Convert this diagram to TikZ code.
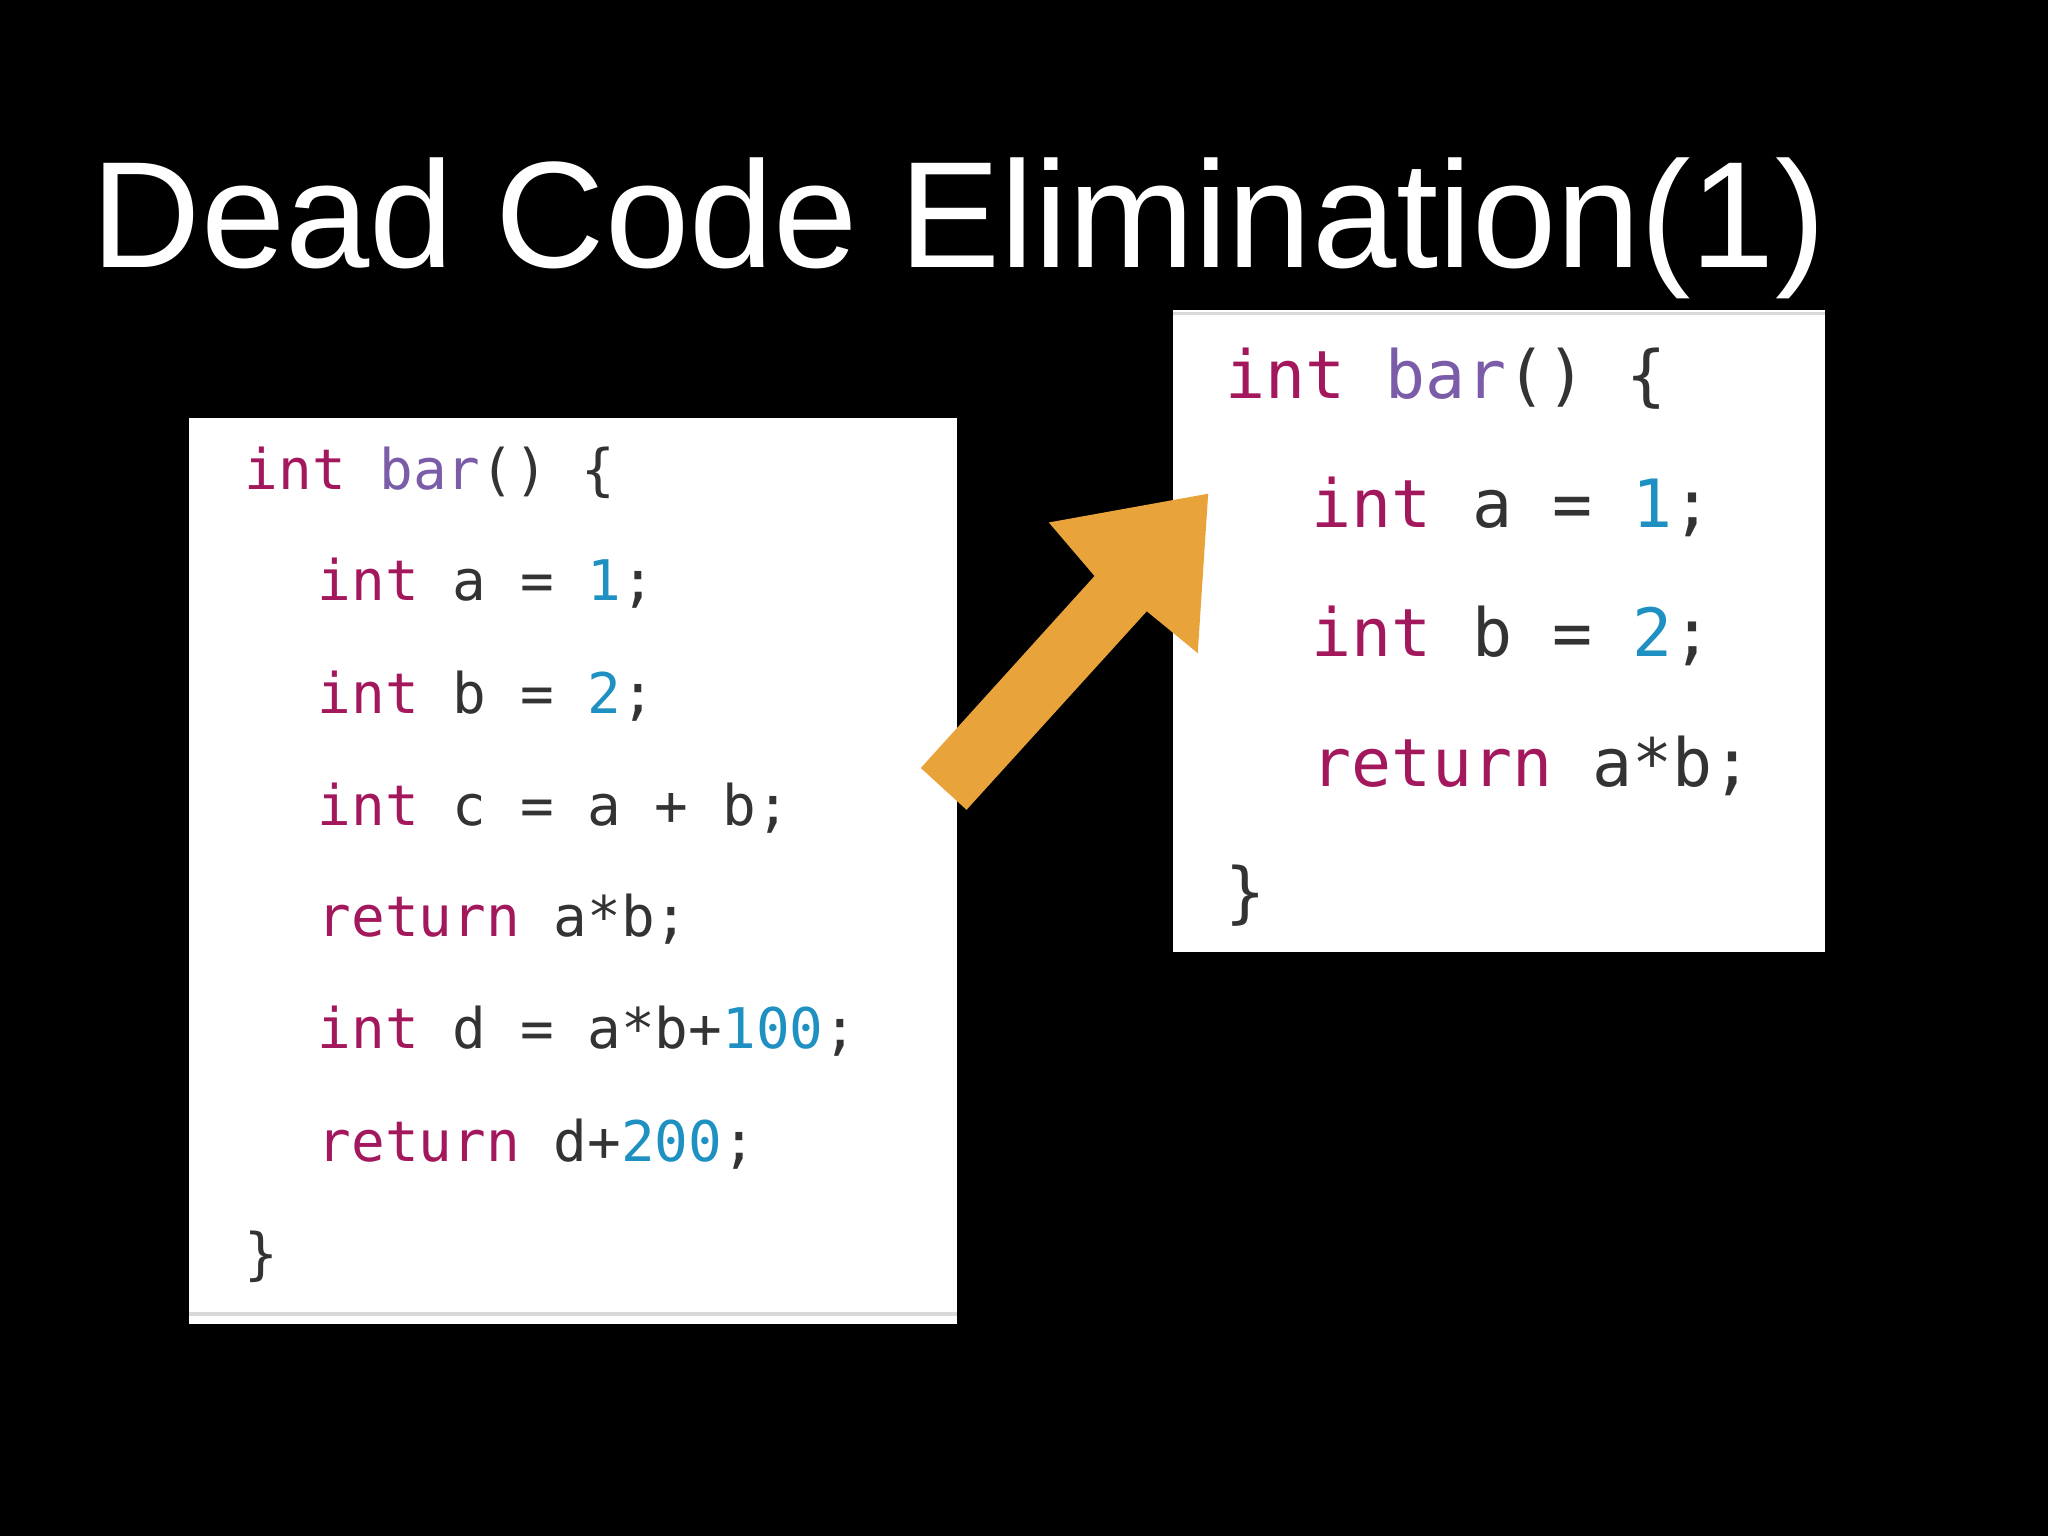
\documentclass[tikz,border=0pt]{standalone}
\usepackage{fontspec}
\setmainfont{Liberation Sans}
\newfontfamily\codefont{DejaVu Sans Mono}
\definecolor{kw}{HTML}{A3175C}
\definecolor{fn}{HTML}{7A5CA8}
\definecolor{num}{HTML}{1E90C2}
\definecolor{txt}{HTML}{333333}
\definecolor{arr}{HTML}{E8A33A}
\newcommand{\K}[1]{\textcolor{kw}{#1}}
\newcommand{\F}[1]{\textcolor{fn}{#1}}
\newcommand{\N}[1]{\textcolor{num}{#1}}
\begin{document}
\begin{tikzpicture}[x=0.02cm,y=-0.02cm,
  codeL/.style={anchor=base west,inner sep=0,text=txt,font=\codefont\fontsize{24.4}{24.4}\selectfont},
  codeR/.style={anchor=base west,inner sep=0,text=txt,font=\codefont\fontsize{29}{29}\selectfont},
  panel/.style={fill=white,draw=none}]
\fill[black] (0,0) rectangle (1568,1176);
\useasboundingbox (0,0) rectangle (1568,1176);
\node[anchor=base west,inner sep=0,text=white,font=\fontsize{66}{66}\selectfont] (title) at (70,205) {Dead Code Elimination(1)};
% left panel
\fill[panel] (145,320) rectangle (733,1014);
\draw[gray!30,line width=1.5] (145,1006) -- (733,1006);
\node[codeL] (l1) at (187,375) {\K{int} \F{bar}() \{};
\node[codeL] (l2) at (243,460) {\K{int} a = \N{1};};
\node[codeL] (l3) at (243,546) {\K{int} b = \N{2};};
\node[codeL] (l4) at (243,632) {\K{int} c = a + b;};
\node[codeL] (l5) at (243,717) {\K{return} a*b;};
\node[codeL] (l6) at (243,803) {\K{int} d = a*b+\N{100};};
\node[codeL] (l7) at (243,889) {\K{return} d+\N{200};};
\node[codeL] (l8) at (187,975) {\}};
% right panel
\fill[panel] (898,237) rectangle (1397,729);
\draw[gray!30,line width=1.5] (898,240) -- (1397,240);
\node[codeR] (r1) at (938,305) {\K{int} \F{bar}() \{};
\node[codeR] (r2) at (1004,404) {\K{int} a = \N{1};};
\node[codeR] (r3) at (1004,503) {\K{int} b = \N{2};};
\node[codeR] (r4) at (1004,602) {\K{return} a*b;};
\node[codeR] (r5) at (938,701) {\}};
% arrow
\fill[arr] (705,588) -- (838,441) -- (803,400) -- (925,378) -- (917,500) -- (878,468) -- (740,620) -- cycle;
\end{tikzpicture}
\end{document}
